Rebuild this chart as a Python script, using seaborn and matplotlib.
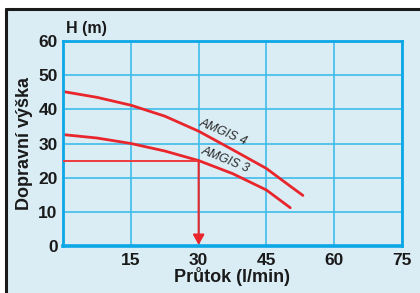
import matplotlib
matplotlib.use("Agg")
import matplotlib.pyplot as plt
import seaborn as sns
import pandas as pd
from matplotlib.patches import Rectangle
from matplotlib.lines import Line2D

# data
flow_a4 = [0, 7.5, 15, 22.5, 30, 37.5, 45, 50, 53.1]
head_a4 = [45.2, 43.5, 41.2, 38.0, 33.6, 28.2, 22.7, 17.8, 14.8]
flow_a3 = [0, 7.5, 15, 22.5, 30, 37.5, 45, 50.3]
head_a3 = [32.6, 31.6, 30.0, 27.8, 25.0, 21.2, 16.4, 11.2]
labels = ["AMGIS 4", "AMGIS 3"]
x_ticks = [15, 30, 45, 60, 75]
y_ticks = [0, 10, 20, 30, 40, 50, 60]
op_flow = 30
op_head = 25

df = pd.DataFrame({
    "flow": flow_a4 + flow_a3,
    "head": head_a4 + head_a3,
    "pump": [labels[0]] * len(flow_a4) + [labels[1]] * len(flow_a3),
})

sns.set_theme(style="white")
plt.rcParams['font.family'] = ['Liberation Sans', 'DejaVu Sans']

W, H = 420, 293
fig = plt.figure(figsize=(W / 100, H / 100), dpi=100)
fig.patch.set_facecolor("white")

bg = "#DAEDF5"
fig.patches.append(Rectangle((6 / W, 0), 1 - 6 / W, (H - 9) / H, transform=fig.transFigure,
                             facecolor=bg, edgecolor="none", zorder=-10))
fig.lines.append(Line2D([6 / W, 6 / W], [0, (H - 9) / H], transform=fig.transFigure,
                        color="#1a1a1a", lw=2.2, zorder=-9))
fig.lines.append(Line2D([6 / W, 1], [(H - 9) / H, (H - 9) / H], transform=fig.transFigure,
                        color="#1a1a1a", lw=2.2, zorder=-9))

ax = fig.add_axes([63.3 / W, (H - 246) / H, 338.4 / W, 205 / H])
ax.set_zorder(1)
ax.set_facecolor(bg)

red = "#E8262C"
grid_c = "#3FBCEA"
spine_c = "#0BA7E6"
txt = "#1a1a1a"

sns.lineplot(data=df, x="flow", y="head", hue="pump", palette=[red, red],
             ax=ax, legend=False, lw=2.0, sort=False)

# operating point lines
ax.plot([0, op_flow], [op_head, op_head], color="#EC3B3F", lw=1.4, zorder=3)
ax.annotate("", xy=(op_flow, 0.3), xytext=(op_flow, op_head),
            arrowprops=dict(arrowstyle="-|>,head_length=0.5,head_width=0.28",
                            color=red, lw=1.5, shrinkA=0, shrinkB=0), zorder=4)

ax.set_xlim(0, 75)
ax.set_ylim(0, 60)
ax.set_xticks(x_ticks)
ax.set_yticks(y_ticks)
ax.grid(True, color=grid_c, lw=1.2)
ax.set_axisbelow(True)
for s in ax.spines.values():
    s.set_color(spine_c)
    s.set_linewidth(2.0)
ax.spines["bottom"].set_linewidth(2.6)
ax.tick_params(length=0, labelsize=12.5)
ax.tick_params(axis="y", pad=4)
ax.tick_params(axis="x", pad=5)
for lab in ax.get_xticklabels() + ax.get_yticklabels():
    lab.set_fontweight("bold")
    lab.set_color(txt)

ax.set_xlabel("Průtok (l/min)", fontsize=13, fontweight="bold", color=txt, va="top")
ax.xaxis.set_label_coords(0.5, -0.1)
ax.set_ylabel("Dopravní výška", fontsize=13, fontweight="bold", color=txt, va="center")
ax.yaxis.set_label_coords(-0.115, 0.5)

fig.text(66.5 / W, (H - 28) / H, "H (m)", fontsize=11.5, fontweight="bold", color=txt,
         va="center", ha="left")

ax.text(35.5, 33.4, labels[0], rotation=-23, ha="center", va="center", fontsize=9,
        style="italic", color="#2a2a2a")
ax.text(36.0, 25.1, labels[1], rotation=-22, ha="center", va="center", fontsize=9,
        style="italic", color="#2a2a2a")

fig.savefig("out.png", dpi=100, facecolor=fig.get_facecolor())
